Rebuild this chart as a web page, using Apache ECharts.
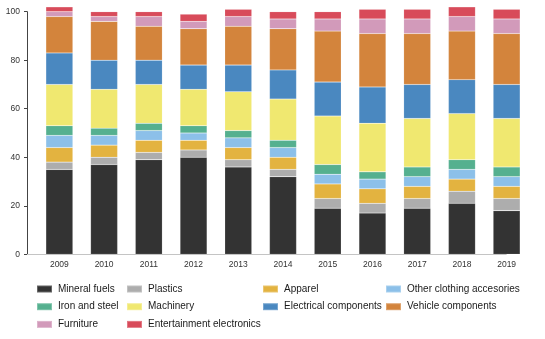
<!DOCTYPE html>
<html>
<head>
<meta charset="utf-8">
<script src="https://cdn.jsdelivr.net/npm/echarts@6/dist/echarts.min.js"></script>
<style>
  html, body { margin: 0; padding: 0; background: #fff; }
  #chart { width: 545px; height: 339px; }
</style>
</head>
<body>
<div id="chart"></div>
<script>
// Import shares by product group, percent of total, per year
const years = ['2009', '2010', '2011', '2012', '2013', '2014', '2015', '2016', '2017', '2018', '2019'];

const mineralFuels       = [35, 37, 39, 40, 36, 32, 19, 17, 19, 21, 18];
const plastics           = [3, 3, 3, 3, 3, 3, 4, 4, 4, 5, 5];
const apparel            = [6, 5, 5, 4, 5, 5, 6, 6, 5, 5, 5];
const otherClothing      = [5, 4, 4, 3, 4, 4, 4, 4, 4, 4, 4];
const ironSteel          = [4, 3, 3, 3, 3, 3, 4, 3, 4, 4, 4];
const machinery          = [17, 16, 16, 15, 16, 17, 20, 20, 20, 19, 20];
const electrical         = [13, 12, 10, 10, 11, 12, 14, 15, 14, 14, 14];
const vehicle            = [15, 16, 14, 15, 16, 17, 21, 22, 21, 20, 21];
const furniture          = [2, 2, 4, 3, 4, 4, 5, 6, 6, 6, 6];
const entertainment      = [2, 2, 2, 3, 3, 3, 3, 4, 4, 4, 4];

const yTicks = [0, 20, 40, 60, 80, 100];

const seriesDefs = [
  { name: 'Mineral fuels', data: mineralFuels, color: '#333333' },
  { name: 'Plastics', data: plastics, color: '#adadad' },
  { name: 'Apparel', data: apparel, color: '#e3b340' },
  { name: 'Other clothing accesories', data: otherClothing, color: '#8cc0e9' },
  { name: 'Iron and steel', data: ironSteel, color: '#55b08f' },
  { name: 'Machinery', data: machinery, color: '#f0e870' },
  { name: 'Electrical components', data: electrical, color: '#4a88c0' },
  { name: 'Vehicle components', data: vehicle, color: '#d3843c' },
  { name: 'Furniture', data: furniture, color: '#d29aba' },
  { name: 'Entertainment electronics', data: entertainment, color: '#d84b5a' }
];

// Legend laid out in four columns, filled row by row
const legendColumns = [
  { left: 36,  names: ['Mineral fuels', 'Iron and steel', 'Furniture'] },
  { left: 126, names: ['Plastics', 'Machinery', 'Entertainment electronics'] },
  { left: 262, names: ['Apparel', 'Electrical components'] },
  { left: 385, names: ['Other clothing accesories', 'Vehicle components'] }
];

const font = 'Liberation Sans, Arial, sans-serif';
const yAxisOffset = 10;

const chart = echarts.init(document.getElementById('chart'), null, { renderer: 'canvas' });

chart.setOption({
  animation: false,
  backgroundColor: '#ffffff',
  grid: { left: 37, right: 16, top: 11.7, bottom: 84.7, containLabel: false },
  legend: legendColumns.map(col => ({
    orient: 'vertical',
    left: col.left,
    top: 284,
    itemWidth: 15,
    itemHeight: 7,
    itemGap: 7.7,
    padding: 0,
    icon: 'rect',
    selectedMode: false,
    data: col.names,
    textStyle: { fontFamily: font, fontSize: 10, color: '#1a1a1a', lineHeight: 10, padding: [0, 0, 0, 1] }
  })),
  xAxis: {
    type: 'category',
    data: years,
    axisLine: { show: false },
    axisTick: { show: false },
    axisLabel: { fontFamily: font, fontSize: 8.5, color: '#333', margin: 6 }
  },
  yAxis: {
    type: 'value',
    min: yTicks[0],
    max: yTicks[yTicks.length - 1],
    interval: yTicks[1] - yTicks[0],
    offset: yAxisOffset,
    splitLine: { show: false },
    axisLine: { show: true, lineStyle: { color: '#444', width: 1 } },
    axisTick: { show: true, length: 3, lineStyle: { color: '#444' } },
    axisLabel: { fontFamily: font, fontSize: 8.5, color: '#333', margin: 7 }
  },
  series: seriesDefs.map(s => ({
    name: s.name,
    type: 'bar',
    stack: 'total',
    data: s.data,
    barWidth: 27,
    clip: false,
    itemStyle: { color: s.color, borderColor: 'rgba(255,255,255,0.25)', borderWidth: 0.5 },
    emphasis: { disabled: true }
  }))
});

// Baseline: runs from the value axis to the centre of the last category
const baseY = chart.convertToPixel({ yAxisIndex: 0 }, 0);
const lastX = chart.convertToPixel({ xAxisIndex: 0 }, years[years.length - 1]);
const gridLeft = chart.getModel().getComponent('grid').coordinateSystem.getRect().x;
chart.setOption({
  graphic: [{
    type: 'line',
    z: 5,
    shape: { x1: gridLeft - yAxisOffset, y1: Math.round(baseY) + 0.5, x2: lastX, y2: Math.round(baseY) + 0.5 },
    style: { stroke: '#c4c4c4', lineWidth: 1 }
  }]
});
</script>
</body>
</html>
